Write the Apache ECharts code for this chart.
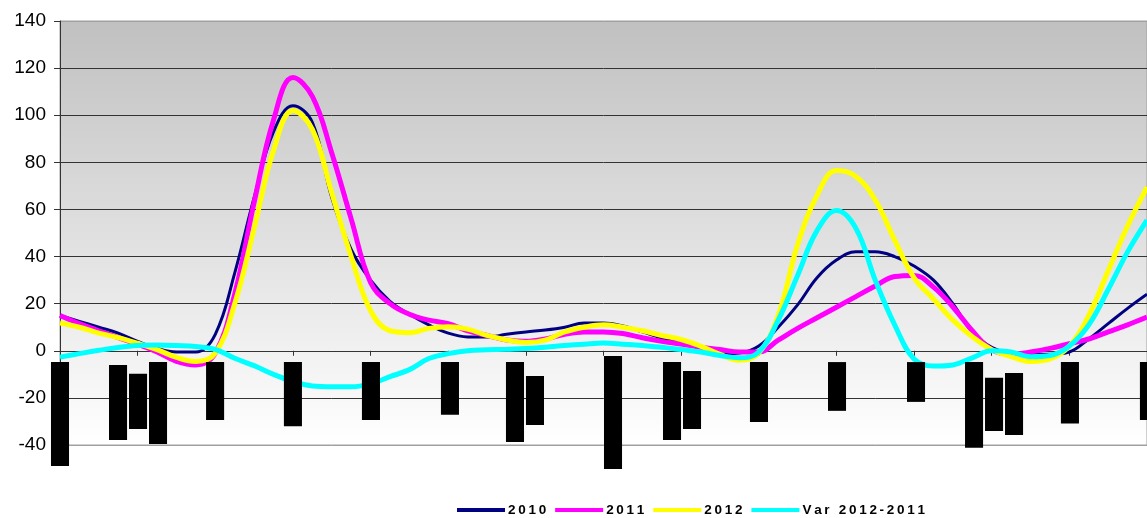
<!DOCTYPE html>
<html>
<head>
<meta charset="utf-8">
<script src="https://cdn.jsdelivr.net/npm/echarts@6/dist/echarts.min.js"></script>
<style>
html,body{margin:0;padding:0;background:#fff;}
#chart{width:1147px;height:518px;}
</style>
</head>
<body>
<div id="chart"></div>
<script>
// Period index (4 periods per tick interval)
const periods = Array.from({length: 57}, (_, i) => i);

const s2010 = [15,12.5,10,7.5,4,1,-0.5,-0.5,7,33,65,93,104,97,65,43,30,21,15.5,11,7.5,5.9,5.8,7,8,8.8,10,11.8,11.8,10.5,8,5.4,3.5,1.5,-1.4,-1,2,10,19.5,31,38.5,42,42,40,36,30,20,8,1.5,-1,-1.5,-1.5,-0.5,5,11.5,18,24];
const s2011 = [15,11.5,8.5,5.6,2.8,-0.5,-4.5,-6,-1,24,63,98,116,108,84,56,29,20,15.5,13,11.5,8.5,6.5,4.6,4,5,7,8,8,7.3,5.5,4,2.9,1.5,0.5,-0.5,-0.5,4.5,9.5,14,18.5,23,27.5,31.5,32,27,18.6,8.5,0.5,-1.5,-0.5,1,3,5,8,11,14.3];
const s2012 = [11.8,10,7.5,5.6,3.2,0.5,-2.8,-4.5,-1,20,52,85,102,94,67,40,17,8.5,7.7,9.5,10.2,9.2,6.5,4.6,3.5,4.5,8,10,11,10,8.5,6.5,4.8,2,-1.5,-4,-1,15,45,66,76.5,74,64,47,31,22,13,6,0.5,-2.5,-4.6,-3.5,2,15,34,53,69.5];
const sVar = [-2.7,-1.2,0.2,1.4,2.2,2.4,2.2,1.8,0.6,-3.2,-6.3,-10,-13,-15,-15.3,-15.3,-14,-11,-8,-3.3,-1.2,0,0.4,0.7,1,1.5,2.2,2.8,3.3,2.8,2.2,1.5,0.5,-0.5,-2,-3,-0.5,13,32,51,59.5,52,30,11,-3.5,-6.5,-6,-3,0,-0.5,-2.5,-2,2,11,26,42,55.5];

// Black label boxes: [period position, top value, bottom value]
const boxPos    = [0.0, 2.99, 4.02, 5.05, 7.99, 12.0, 16.02, 20.09, 23.44, 24.47, 28.49, 31.53, 32.56, 36.01, 40.03, 44.1, 47.09, 48.12, 49.15, 52.03, 56.1];
const boxTop    = [-4.8, -6.0, -9.8, -4.8, -4.8, -4.8, -4.8, -4.8, -4.8, -10.7, -2.2, -4.8, -8.6, -4.8, -4.8, -4.8, -4.8, -11.5, -9.4, -4.8, -4.8];
const boxBottom = [-48.9, -37.9, -33.2, -39.6, -29.4, -32.0, -29.4, -27.2, -38.7, -31.5, -50.2, -37.9, -33.2, -30.2, -25.5, -21.7, -41.2, -34.1, -35.8, -30.9, -29.4];

const yTicks = [-40, -20, 0, 20, 40, 60, 80, 100, 120, 140];
const seriesNames = ['2010', '2011', '2012', 'Var 2012-2011'];

const pair = arr => arr.map((v, i) => [periods[i], v]);
const boxes = boxPos.map((p, i) => [p, boxTop[i], boxBottom[i]]);

const chart = echarts.init(document.getElementById('chart'), null, {renderer: 'canvas'});

const splitColors = yTicks.map((t, i) => (i === 0 || i === yTicks.length - 1) ? '#a0a0a0' : '#333333');

chart.setOption({
  animation: false,
  grid: {
    left: 60, right: 0, top: 21, bottom: 73,
    show: true,
    borderColor: '#a0a0a0',
    borderWidth: 1,
    backgroundColor: new echarts.graphic.LinearGradient(0, 0, 0, 1, [
      {offset: 0, color: '#c0c0c0'},
      {offset: 1, color: '#ffffff'}
    ])
  },
  legend: {
    left: 457,
    top: 503,
    padding: 0,
    icon: 'rect',
    itemWidth: 48,
    itemHeight: 4,
    itemGap: 9,
    data: seriesNames,
    formatter: name => name.split('').join('\u2009'),
    textStyle: {fontFamily: 'Liberation Sans, Arial, sans-serif', fontSize: 13.5, fontWeight: 'bold', color: '#000', padding: [0, 0, 0, -2]}
  },
  xAxis: {
    type: 'value',
    min: 0,
    max: 56,
    interval: 4,
    axisLine: {onZero: true, lineStyle: {color: '#333', width: 1}},
    axisTick: {show: true, length: 5, lineStyle: {color: '#333'}},
    axisLabel: {show: false},
    splitLine: {show: false}
  },
  yAxis: {
    type: 'value',
    min: -40,
    max: 140,
    interval: 20,
    axisLine: {show: true, lineStyle: {color: '#333', width: 1}},
    axisTick: {show: true, length: 6, lineStyle: {color: '#333'}},
    axisLabel: {
      margin: 14,
      color: '#000',
      fontFamily: 'Liberation Sans, Arial, sans-serif',
      fontSize: 19
    },
    splitLine: {show: true, lineStyle: {color: splitColors, width: 1}}
  },
  series: [
    {name: '2010', type: 'line', data: pair(s2010), smooth: 0.4, showSymbol: false, symbol: 'none',
     lineStyle: {color: '#000080', width: 3}, itemStyle: {color: '#000080'}, z: 2},
    {name: '2011', type: 'line', data: pair(s2011), smooth: 0.4, showSymbol: false, symbol: 'none',
     lineStyle: {color: '#ff00ff', width: 5}, itemStyle: {color: '#ff00ff'}, z: 3},
    {name: '2012', type: 'line', data: pair(s2012), smooth: 0.4, showSymbol: false, symbol: 'none',
     lineStyle: {color: '#ffff00', width: 5}, itemStyle: {color: '#ffff00'}, z: 4},
    {name: 'Var 2012-2011', type: 'line', data: pair(sVar), smooth: 0.4, showSymbol: false, symbol: 'none',
     lineStyle: {color: '#00ffff', width: 5}, itemStyle: {color: '#00ffff'}, z: 5},
    {
      type: 'custom',
      clip: false,
      z: 10,
      data: boxes,
      renderItem: function (params, api) {
        const x = api.value(0);
        const top = api.coord([x, api.value(1)]);
        const bot = api.coord([x, api.value(2)]);
        const w = api.size([0.93, 0])[0];
        return {
          type: 'rect',
          shape: {x: top[0] - w / 2, y: top[1], width: w, height: bot[1] - top[1]},
          style: {fill: '#000'}
        };
      }
    }
  ]
});
</script>
</body>
</html>
